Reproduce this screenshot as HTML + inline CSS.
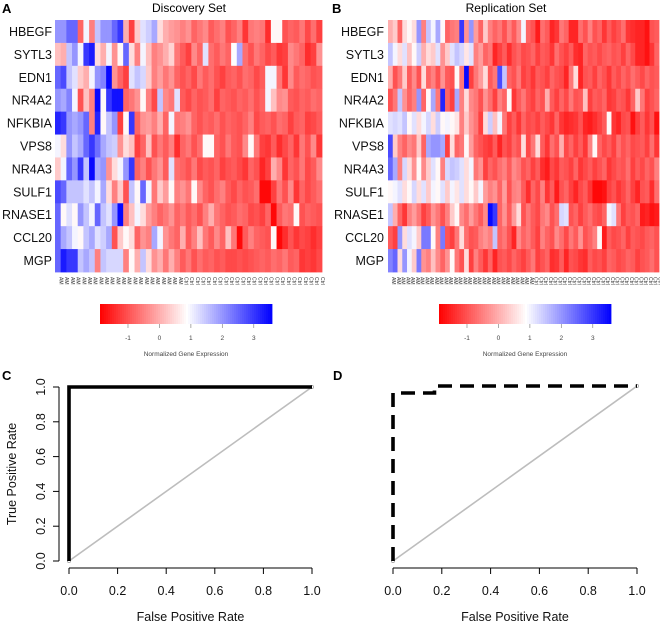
<!DOCTYPE html>
<html><head><meta charset="utf-8">
<style>
html,body{margin:0;padding:0;background:#fff;}
svg{display:block;font-family:"Liberation Sans",Arial,sans-serif;}
</style></head>
<body>
<svg id="fig" width="660" height="623" viewBox="0 0 660 623" xmlns="http://www.w3.org/2000/svg">
<text x="2" y="13" font-size="13" font-weight="bold">A</text>
<text x="189" y="12" font-size="12" text-anchor="middle">Discovery Set</text>
<text x="332" y="13" font-size="13" font-weight="bold">B</text>
<text x="506" y="12" font-size="12" text-anchor="middle">Replication Set</text>
<text x="2" y="380" font-size="13" font-weight="bold">C</text>
<text x="333" y="380" font-size="13" font-weight="bold">D</text>
<g id="layer"></g>
</svg>
<script>
const genes = ["HBEGF","SYTL3","EDN1","NR4A2","NFKBIA","VPS8","NR4A3","SULF1","RNASE1","CCL20","MGP"];
const groupsA = {AM:22, Ctrl:25};
const groupsB = {AM:30, Ctrl:27};
const valuesA = [
[2,2,2.5,2.5,-0.8,1,-0.5,1.5,2,2,2.5,3,0,-1.2,0.3,1.2,1.4,1.8,0.5,0,-0.2,-0.3,-0.5,-0.3,-0.8,-0.6,-0.4,-0.9,-0.7,-0.5,-1,-0.8,-0.5,-1.3,-0.6,-0.5,-0.6,-1.4,0.8,0.8,-1,-0.8,-0.9,-0.6,-1.1,-0.7,-1.2],
[0.2,0,1.5,2,1,3,3.3,0.5,0,1,-0.3,0.8,2.5,0.5,-0.5,1,0.2,-0.5,-0.3,0,0.4,-0.6,-0.9,-1.2,-0.4,-0.8,1.2,-0.7,-0.9,-0.6,-0.8,0.9,1.8,-0.7,-1,-0.6,-0.8,-1.1,-0.9,-1.3,-1.2,-0.4,-0.6,-0.8,-1.4,-1.2,-0.3],
[2.5,2.8,1.5,1.2,0.3,0,1,2,2.2,3.5,-0.3,-0.8,-1.2,1.2,1.5,1.3,0.3,-0.5,-0.2,-0.6,-0.3,-0.8,-1,-0.8,-1.1,-0.6,-0.9,-0.7,-1,-1.2,-0.9,-0.8,-1,-0.7,-0.8,-1.1,-0.9,1,1,-0.6,-1.3,-0.4,-0.9,-0.7,-0.8,-1,-0.9],
[2,1.8,2.2,1,-1,0.2,-0.5,3.5,0.8,3,3.4,3.4,-0.8,-0.6,-0.3,0.8,-0.5,-1.1,1.5,-0.4,-0.6,1.2,-0.9,-1.1,-0.8,-1,-0.9,-0.7,-1.2,-0.8,-0.9,-1,-0.8,-0.9,-0.7,-1,-0.8,1,0.2,-0.4,-0.3,-0.9,-1,-0.8,-0.9,-0.7,-0.8],
[3.2,3,2,1.8,2,2.5,-0.5,3.2,0.8,1.5,2,-1.2,0.8,3,-0.8,-0.3,-0.2,-0.5,0,-0.8,1,-0.6,-0.5,-0.3,-0.8,-1,-0.8,-0.9,-0.7,-1,-0.8,-0.9,-1,-0.8,-0.5,-1.1,-0.9,-0.8,-1,-0.7,-0.8,-1.2,-0.9,-0.8,-1.2,-1.1,-0.9],
[1,0.5,2,1.5,1.8,2.5,3,2.4,1.8,1.5,1.4,-0.3,0.5,0.2,-1.2,-0.8,0.2,-1,-0.6,-0.9,-0.5,-1.4,-0.8,-0.6,-1,-0.7,0.8,0.8,-0.8,-1,-0.6,-0.9,-1,-0.4,0.8,-0.6,-1.2,-1.3,-0.9,-1.4,-1.1,-0.8,-1.3,-0.6,-1,-0.4,-1.3],
[0.3,1,2.5,2,3,1.5,3.5,1.8,2,-0.3,0.5,1,2,3,-0.8,-0.5,-1,-0.6,-0.3,-0.9,1.2,-0.7,-0.8,-1,-0.6,-1.1,-0.9,-1,-0.8,-1.2,-1,-0.9,-1.1,-1.3,-0.8,-1,-1.5,-1.2,0,-0.4,-1.3,-0.8,-1,-0.6,-1.1,-0.9,-0.4],
[2.8,2.5,1.5,1.5,1.5,1.2,1.5,1,1.8,0.5,-0.5,0.3,-1,1.5,0.8,2.5,1,-0.6,0.3,-0.2,0.8,-0.5,-0.3,-0.6,0.8,-0.4,-0.8,-1,-0.7,-0.5,-0.9,-1.1,-0.8,-1,-0.9,-0.7,-1.8,-1.8,-1.2,-0.6,-1,-0.4,-1.3,-0.8,-1.1,-0.9,-0.7],
[2.5,0.8,1.2,0.8,2,1.5,1,2.5,1.5,1.2,2,3.5,-0.5,0.2,1,0.5,-0.2,-0.5,-0.8,-0.6,-0.3,-0.8,-0.6,-0.9,-0.7,-1,-0.5,0,-0.6,-0.8,-1,-0.9,-0.7,-0.8,-1.1,-1,-1.2,-0.8,-1.8,-0.9,-0.6,-0.7,0.8,-1,-0.8,-0.9,-1],
[2.5,1.8,1.5,1,0.8,1.5,1.8,1.2,1.4,1.8,-1,0.3,0.8,0.5,-0.8,-0.3,-0.5,1.8,1,-0.3,-0.6,-0.8,0,-0.9,-0.5,0.2,-0.6,-0.9,-0.4,-0.8,0.2,-0.6,-1.8,-0.9,-0.5,-0.8,-0.9,-1,0.8,-1.8,-1.4,-1,-1.3,-1.1,-1.2,-1.4,-1.2],
[2.5,3.3,3,3,1.5,1.8,1.5,-0.5,1.5,1.3,1.3,1.3,-0.5,0.8,0,1.5,0.5,-0.3,0,-0.6,0,-0.5,-0.9,-0.6,-1,-0.7,-0.9,-0.8,-1,-0.9,-1.1,-1.1,-1,-1.1,-1,-0.9,-0.8,-0.9,-0.7,-0.8,-0.6,-0.9,-0.8,-1.3,-1.2,-1.3,-1.1]
];
const valuesB = [
[0,0.3,-0.8,0.5,0.8,0.5,2,-0.5,1.5,1,1.8,0.8,-0.8,-0.6,-0.5,3,-0.3,2,-0.2,-0.8,0.3,-0.5,-0.8,-0.6,-1,-0.5,-0.9,-0.4,1,-0.8,-1,-1.6,-0.7,-0.9,-1.5,-1.3,-0.6,-0.8,-1.5,-1.5,-0.7,-1,-0.5,-1,-0.8,-1.3,-0.9,-1.2,-1,-0.7,-1.3,-1.4,-1.5,-1.5,-1.7,-1,-0.9],
[1.5,1,0.5,1.2,0.2,0.8,1.4,0,0.5,0.3,1.2,-0.3,0.3,1.2,1.5,1.3,0.6,1.2,-0.5,-0.2,-0.8,-0.6,-1.5,-1.2,-0.9,-1.4,-1,-0.8,-1.1,-1,-0.8,-1.2,-0.9,-1,-1.3,-0.7,-1,-1.2,-0.9,-1.4,-1.5,-0.8,-1,-0.9,-1.1,-0.9,-0.8,-1,-0.9,-1.2,-0.8,-1.1,-1.5,-1.5,-1.7,-1.3,-0.8],
[0,-1,-0.6,0.3,-0.9,-0.4,-1,0.5,-0.8,-0.5,-1,-0.3,-0.9,-1,0.8,-0.6,3.5,-1.2,-0.6,-0.2,0.5,-0.9,-0.6,2.8,1.5,-0.8,-1,-0.6,-1.2,-1,-1.3,-0.9,-1,-1.2,-0.8,-1,-1.1,-1.5,-0.6,0.5,-1.5,-1,-0.9,-1.2,-0.8,-1,-1.3,-0.9,-1.1,-0.8,-1,-0.7,-0.9,-1.1,-0.8,-1,-0.9],
[-1,-0.6,1.5,-0.3,-0.8,-0.5,2,-0.8,0.8,1.8,-0.6,3.2,-0.8,-1.2,1.8,-0.5,0.5,-0.4,-0.6,-1,-0.3,-0.7,-1.2,-0.5,-0.8,0.8,-1.3,-0.9,-0.6,-1,-1.2,-0.8,-1,0,-0.9,-1.2,-0.8,-1.1,-0.6,-1,-0.9,0.2,-1.2,-0.9,-1,-0.8,-1.3,-1.2,-0.9,-1,-1.3,-0.8,0.3,-0.6,-1.2,-1,-0.8],
[1.2,1.3,1.2,1.5,0.8,1.2,0.5,1,1.3,0.5,1.4,0.8,1,0.8,0.6,-0.5,0.3,-0.3,-0.6,-1.2,0.5,1.4,0.2,1,-0.6,-1.2,-0.9,-1.3,-0.8,-1.1,-1,-1.2,-0.9,-1.1,-1.3,-0.8,-1.3,-1.5,-1.4,-1.3,-1,-1.5,-1.6,-1.4,-1.2,-0.9,0.8,-1.3,-1.5,-1.1,-1,-1.7,-1.2,-0.9,-1.3,-1,-1.7],
[2.8,0.3,-0.5,-0.8,-0.4,-0.6,0.3,-0.8,1.8,2,2,1.8,-1.2,0.5,-0.8,-0.6,0.8,-0.2,-0.8,-1,-1.2,-1.3,-0.9,-1.5,-1,-1.2,-0.8,-1,0.5,-1.1,-0.6,0.5,-0.9,-1.3,-0.7,-1,0,-1.1,-0.8,-1.2,-0.9,-1.3,-0.5,0.8,-0.8,-1.1,-0.9,-1.2,-0.7,-1,-0.8,-1.1,-1,-0.9,-1.2,-0.7,-1.3],
[2.5,1.8,-0.5,1.3,0.5,-0.3,0.8,-0.4,0.3,1.2,0.8,-0.5,1.3,1.5,1.4,1.2,0.5,1,-0.6,-0.3,-1.2,-0.8,-1,-0.7,-0.5,-0.9,-0.4,-0.6,-1,-0.8,-1.2,-0.9,-1.4,-1.6,-1.1,-1.3,-0.9,-1,-1.2,-0.8,-1.3,-1.1,-0.9,-1.2,-1,-0.8,-1.3,-1.1,-0.9,-1,-0.7,-1.2,-0.9,-1.1,-0.8,-1,-0.5],
[0.8,1,1.2,0.5,0.8,1.3,0.5,1.2,0.3,1,0.8,1.2,0.3,1,0.6,1.2,0.5,0.8,0.3,1,-0.2,-0.5,-0.3,-0.8,-0.2,-1,-0.5,-0.4,-0.9,-1.4,-0.8,-1.1,-0.5,-1.3,-0.9,-1.6,-1,-0.8,-1.2,-1.5,-1.1,-0.9,-1.3,-1.8,-1.8,-1.7,-1.2,-1,-1.3,-1.1,-0.8,-1.2,-1.5,-1,-0.9,-1.4,-0.7],
[1.5,0,-0.8,-1.3,-0.5,-0.2,-0.6,-1.2,-0.9,-0.3,-0.6,-1,-0.5,0.3,0.8,-0.4,-0.7,-0.2,-0.6,-0.9,-0.4,3.5,3,-0.8,-0.3,-0.9,-0.2,0.5,-1,-0.6,-0.9,-1.1,-0.6,-0.4,-1,-0.7,1.3,1.2,-1,-0.8,-1.2,-0.9,-0.7,-1,-1.1,-0.8,1,1.2,-0.6,-1.2,-0.9,-1,-0.8,-1.6,-1.5,-1.7,-1.6],
[-0.9,-1.2,2,0.5,1.2,1,0.3,2.3,2.3,0.8,-0.5,2.3,-1,-1.2,-0.6,0.5,-0.7,-1,-0.9,-0.5,-0.3,-0.5,1.5,-0.8,-0.6,-1,-1.5,-0.4,-0.8,-0.6,-0.9,-1.2,-0.5,-0.8,-1,-0.4,-0.7,-1.1,-0.6,-0.9,-0.3,-1,-0.8,-0.5,0.8,-1.6,-0.9,-1.1,-1,-0.8,-1.2,-0.9,-1,-1.1,-0.9,-0.8,-1],
[2.2,2.5,0.5,2,1,0.3,2.3,-0.3,-0.5,0.2,-0.4,-0.8,-0.3,0.8,-0.6,-1,0.5,-1.2,-0.5,-0.9,-1.3,-0.8,-1.5,-1,-0.9,-1.1,-0.8,-1,-1.2,-0.9,-0.6,-1.2,-1,-0.8,-1.4,-1.3,-0.9,-1.5,-1,-1.1,-1.3,-1.4,-0.9,-1.1,-1,-1.2,-0.8,-0.9,-1.1,-1,-0.8,-0.9,-1.2,-1,-0.9,-0.7,-1]
];
const colorTicks = [-1,0,1,2,3];
const rocTicks = [0,0.2,0.4,0.6,0.8,1.0];
const fprC = [0,0,1];
const tprC = [0,1,1];
const fprD = [0,0,0.17,0.17,1];
const tprD = [0,0.96,0.96,1,1];

const NS = "http://www.w3.org/2000/svg";
const layer = document.getElementById('layer');
function mk(tag, attrs, parent){
  const e = document.createElementNS(NS, tag);
  for (const k in attrs) e.setAttribute(k, attrs[k]);
  (parent||layer).appendChild(e);
  return e;
}
const VMIN = -1.89, VWHITE = 0.88, VMAX = 3.58;
function color(v){
  let r,g,b;
  if (v <= VWHITE){
    const t = Math.max(0, Math.min(1, (VWHITE - v)/(VWHITE - VMIN)));
    r = 255; g = Math.round(255*(1-t)); b = g;
  } else {
    const t = Math.max(0, Math.min(1, (v - VWHITE)/(VMAX - VWHITE)));
    b = 255; r = Math.round(255*(1-t)); g = r;
  }
  return `rgb(${r},${g},${b})`;
}

function heatmap(name, vals, groups, x0, x1, y0, y1, labelX, barX0, barX1){
  const g = mk('g', {});
  
  
  const nRows = vals.length, nCols = vals[0].length;
  const cw = (x1-x0)/nCols, rh = (y1-y0)/nRows;
  vals.forEach((row, i) => {
    row.forEach((v, j) => {
      const c = mk('rect', {x:(x0+j*cw).toFixed(2), y:(y0+i*rh).toFixed(2), width:(cw+0.4).toFixed(2), height:(rh+0.4).toFixed(2), fill:color(v)}, g);
      
      
    });
    const t = mk('text', {x:labelX, y:(y0+(i+0.5)*rh+4.5).toFixed(1), 'font-size':12.5, 'text-anchor':'end', fill:'#111'}, g);
    
    
    t.textContent = genes[i];
  });
  const labels = [];
  for (let k=0;k<groups.AM;k++) labels.push('AM');
  for (let k=0;k<groups.Ctrl;k++) labels.push('Ctrl');
  labels.forEach((lab, j) => {
    const cx = x0 + (j+0.5)*cw;
    const t = mk('text', {x:0, y:0, 'font-size':5, fill:'#333', transform:`translate(${(cx+1.7).toFixed(2)},277) rotate(90)`}, g);
    
    
    t.textContent = lab;
  });
  const scaleX = v => barX0 + (v - VMIN)/(VMAX - VMIN)*(barX1-barX0);
  const cb = mk('g', {}, g);
  
  
  const steps = 86;
  for (let s=0;s<steps;s++){
    const v = VMIN + (s+0.5)/steps*(VMAX-VMIN);
    const w = (barX1-barX0)/steps;
    const r = mk('rect', {x:(barX0+s*w).toFixed(2), y:304, width:(w+0.4).toFixed(2), height:20, fill:color(v)}, cb);
    
    
  }
  colorTicks.forEach(tv => {
    const x = scaleX(tv);
    const l = mk('line', {x1:x, x2:x, y1:324, y2:328, stroke:'#888', 'stroke-width':0.7}, cb);
    
    
    const t = mk('text', {x:x, y:340, 'font-size':6.5, 'text-anchor':'middle', fill:'#444'}, cb);
    
    
    t.textContent = tv;
  });
  const ct = mk('text', {x:(barX0+barX1)/2, y:356, 'font-size':6.5, 'text-anchor':'middle', fill:'#444'}, cb);
  
  
  ct.textContent = 'Normalized Gene Expression';
}
heatmap('heatmap-discovery', valuesA, groupsA, 55, 322, 20, 272, 52, 100, 272);
heatmap('heatmap-replication', valuesB, groupsB, 388, 659, 20, 272, 384, 439, 611);

function roc(name, fpr, tpr, x0, x1, yBot, yTop, dashed, withYAxis){
  const g = mk('g', {});
  
  
  const sx = v => x0 + v*(x1-x0);
  const sy = v => yBot - v*(yBot-yTop);
  const diag = mk('line', {x1:sx(0), y1:sy(0), x2:sx(1), y2:sy(1), stroke:'#bdbdbd', 'stroke-width':1.6}, g);
  
  
  [[0,0],[1,1]].forEach(p => {
    const c = mk('circle', {cx:sx(p[0]), cy:sy(p[1]), r:1.6, fill:'#fff', stroke:'#999', 'stroke-width':0.7}, g);
    
    
  });
  const pts = fpr.map((f,i) => sx(f).toFixed(2)+','+sy(tpr[i]).toFixed(2)).join(' ');
  const attrs = {points:pts, fill:'none', stroke:'#000', 'stroke-width':3.6, 'stroke-linejoin':'miter'};
  if (dashed){ attrs['stroke-dasharray'] = '14 8'; }
  const pl = mk('polyline', attrs, g);
  
  
  const ax = mk('line', {x1:x0, x2:x1, y1:568, y2:568, stroke:'#000', 'stroke-width':1}, g);
  
  
  rocTicks.forEach(t => {
    const x = sx(t);
    const tk = mk('line', {x1:x, x2:x, y1:568, y2:574, stroke:'#000', 'stroke-width':1}, g);
    
    
    const lb = mk('text', {x:x, y:595, 'font-size':12.5, 'text-anchor':'middle', fill:'#111'}, g);
    
    
    lb.textContent = t.toFixed(1);
  });
  const xt = mk('text', {x:(x0+x1)/2, y:621, 'font-size':12.5, 'text-anchor':'middle', fill:'#111'}, g);
  
  
  xt.textContent = 'False Positive Rate';
  if (withYAxis){
    const ay = mk('line', {x1:59, x2:59, y1:sy(0), y2:sy(1), stroke:'#000', 'stroke-width':1}, g);
    
    
    rocTicks.forEach(t => {
      const y = sy(t);
      const tk = mk('line', {x1:53, x2:59, y1:y, y2:y, stroke:'#000', 'stroke-width':1}, g);
      
      
      const lb = mk('text', {x:0, y:0, 'font-size':12.5, 'text-anchor':'middle', fill:'#111', transform:`translate(45,${y.toFixed(2)}) rotate(-90)`}, g);
      
      
      lb.textContent = t.toFixed(1);
    });
    const yt = mk('text', {x:0, y:0, 'font-size':12.5, 'text-anchor':'middle', fill:'#111', transform:`translate(16,${((sy(0)+sy(1))/2).toFixed(1)}) rotate(-90)`}, g);
    
    
    yt.textContent = 'True Positive Rate';
  }
}
roc('roc-discovery', fprC, tprC, 69, 312, 561, 387, false, true);
roc('roc-replication', fprD, tprD, 393, 637, 561, 386, true, false);
</script>
</body></html>
